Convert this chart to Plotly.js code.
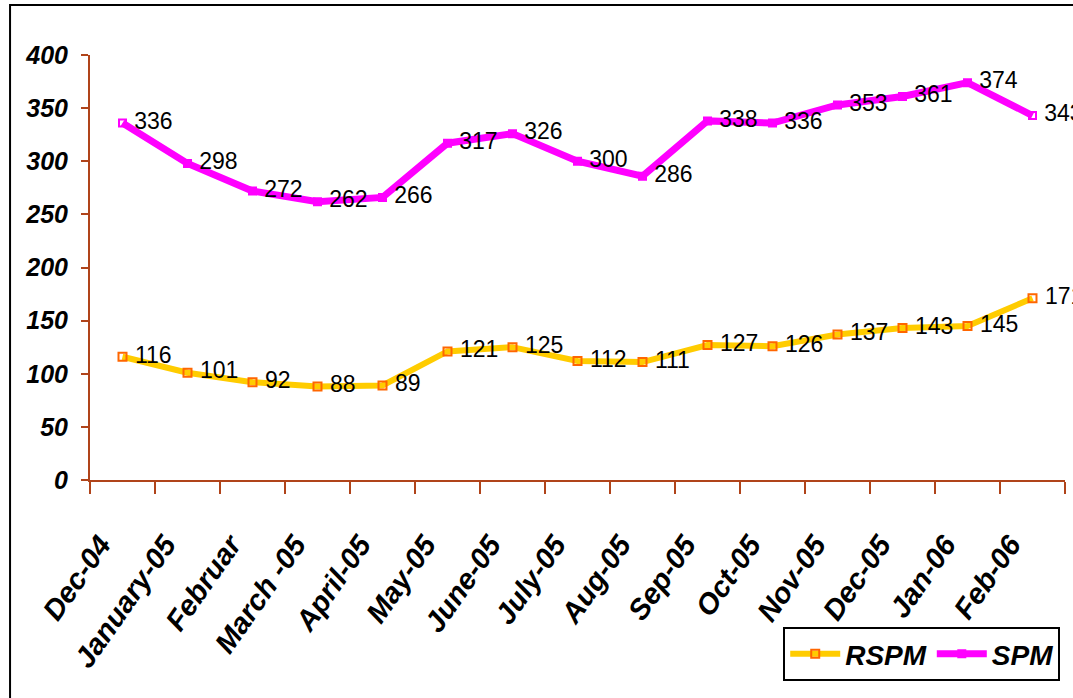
<!DOCTYPE html>
<html>
<head>
<meta charset="utf-8">
<script src="https://cdn.plot.ly/plotly-3.0.1.min.js"></script>
<style>
  html, body { margin: 0; padding: 0; background: #fff; }
  #chart { width: 1073px; height: 698px; }
</style>
</head>
<body>
<div id="chart"></div>
<script>
const months = ['Dec-04', 'January-05', 'Februar', 'March -05', 'April-05', 'May-05', 'June-05',
  'July-05', 'Aug-05', 'Sep-05', 'Oct-05', 'Nov-05', 'Dec-05', 'Jan-06', 'Feb-06'];
const rspm = [116, 101, 92, 88, 89, 121, 125, 112, 111, 127, 126, 137, 143, 145, 171];
const spm = [336, 298, 272, 262, 266, 317, 326, 300, 286, 338, 336, 353, 361, 374, 343];

const sans = '"Liberation Sans", Arial, sans-serif';
const axisColor = '#B0441A';

const labelFont = { family: sans, size: 23, color: '#000' };

const data = [
  {
    x: months, y: rspm, name: 'RSPM', type: 'scatter', mode: 'lines+markers+text',
    line: { color: '#FFCC00', width: 6 },
    marker: { symbol: 'square-open', size: 8, color: '#FF6600', line: { width: 2, color: '#FF6600' } },
    text: rspm.map(v => ' ' + v), textposition: 'middle right', textfont: labelFont,
    cliponaxis: false,
  },
  {
    x: months, y: spm, name: 'SPM', type: 'scatter', mode: 'lines+markers+text',
    line: { color: '#FF00FF', width: 7 },
    marker: { symbol: 'square-open', size: 7, color: '#FF00FF', line: { width: 2, color: '#FF00FF' } },
    text: spm.map(v => ' ' + v), textposition: 'middle right', textfont: labelFont,
    cliponaxis: false,
  },
];

const layout = {
  width: 1073, height: 698,
  margin: { l: 90, r: 8, t: 55, b: 218 },
  paper_bgcolor: '#fff', plot_bgcolor: '#fff',
  showlegend: true,
  legend: {
    x: 0.711, y: -0.346, xanchor: 'left', yanchor: 'top', orientation: 'h',
    bordercolor: '#000', borderwidth: 2, bgcolor: '#fff', itemwidth: 50,
    font: { family: sans, size: 28, color: '#000', weight: 'bold', style: 'italic' },
  },
  xaxis: {
    type: 'category', range: [-0.5, 14.5],
    showline: true, linecolor: axisColor, linewidth: 2,
    ticks: 'outside', tickson: 'boundaries', ticklen: 12, tickcolor: axisColor, tickwidth: 2,
    showgrid: false, zeroline: false,
    tickangle: -55, ticklabelstandoff: 34, ticklabelshift: -22,
    tickfont: { family: sans, size: 29, color: '#000', weight: 'bold', style: 'italic' },
  },
  yaxis: {
    range: [0, 400], dtick: 50, tick0: 0,
    showline: true, linecolor: axisColor, linewidth: 2,
    ticks: 'outside', ticklen: 7, tickcolor: axisColor, tickwidth: 2,
    showgrid: false, zeroline: false,
    ticklabelstandoff: 8,
    tickfont: { family: sans, size: 25, color: '#000', weight: 'bold', style: 'italic' },
  },
  shapes: [
    { type: 'rect', xref: 'paper', yref: 'paper', x0: -0.082, x1: 1.3, y0: -1, y1: 1.1176,
      line: { color: '#000', width: 2 }, fillcolor: 'rgba(0,0,0,0)', layer: 'below' },
  ],
};

Plotly.newPlot('chart', data, layout, { staticPlot: true });
</script>
</body>
</html>
